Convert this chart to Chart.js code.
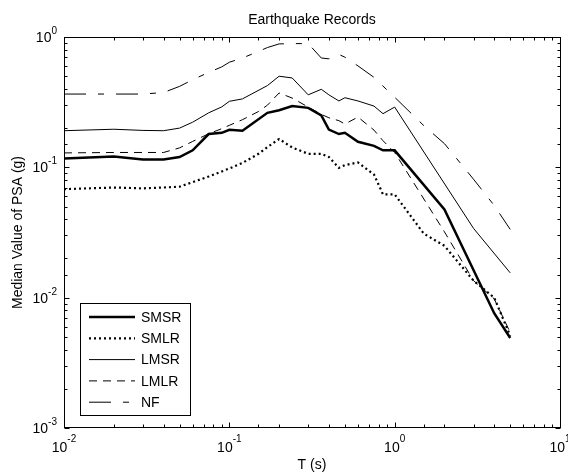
<!DOCTYPE html>
<html>
<head>
<meta charset="utf-8">
<title>Earthquake Records</title>
<script src="https://cdn.jsdelivr.net/npm/chart.js@4/dist/chart.umd.min.js"></script>
<style>
  html, body { margin: 0; padding: 0; background: #fff; }
  canvas { display: block; }
</style>
</head>
<body>
<canvas id="psa" width="568" height="473"></canvas>
<script>
// ---------- Data ----------
const periods = [0.01, 0.02, 0.03, 0.04, 0.05, 0.06, 0.075, 0.09, 0.1, 0.12, 0.15, 0.17, 0.2, 0.24,
                 0.3, 0.36, 0.4, 0.46, 0.5, 0.6, 0.75, 0.85, 1.0, 1.5, 2.0, 3.0, 4.0, 5.0];

const smsr = [0.117, 0.121, 0.115, 0.115, 0.120, 0.135, 0.180, 0.184, 0.194, 0.191, null, 0.262, 0.274, 0.295,
              0.286, 0.250, 0.195, 0.180, 0.184, 0.157, 0.146, 0.135, 0.135, null, 0.0476, null, 0.0076, 0.0049];
const smlr = [0.068, 0.070, 0.069, 0.070, 0.071, 0.077, 0.085, 0.093, 0.098, 0.108, 0.127, 0.143, 0.165, 0.142,
              0.127, 0.127, 0.120, 0.099, 0.104, 0.109, 0.088, 0.062, 0.062, 0.031, 0.025, 0.0135, 0.0100, 0.0051];
const lmsr = [0.191, 0.196, 0.192, 0.191, 0.200, 0.222, 0.262, 0.291, 0.321, 0.335, null, 0.424, 0.500, 0.485,
              0.360, 0.397, 0.360, 0.323, 0.342, 0.323, 0.295, 0.258, 0.290, null, null, 0.034, null, 0.0155];
const lmlr = [0.129, 0.130, 0.130, 0.130, 0.141, 0.158, 0.181, 0.198, 0.210, 0.232, 0.268, 0.300, 0.372, 0.340,
              0.290, 0.255, 0.240, 0.228, 0.215, 0.243, 0.193, 0.160, 0.130, null, 0.032, 0.0135, 0.0098, 0.0054];
const nf   = [0.365, 0.365, 0.365, 0.375, 0.418, 0.470, 0.535, 0.590, 0.640, 0.690, 0.775, 0.830, 0.885, 0.890,
              0.890, 0.690, 0.680, 0.735, 0.700, 0.600, 0.490, 0.420, 0.345, 0.209, 0.152, 0.081, 0.051, 0.0334];

const xTickLabels = [['10', '-2'], ['10', '-1'], ['10', '0'], ['10', '1']];
const yTickLabels = [['10', '-3'], ['10', '-2'], ['10', '-1'], ['10', '0']];

const FONT = '"Liberation Sans", Arial, sans-serif';

const toXY = (ys) => periods.map((t, i) => ({ x: t, y: ys[i] }));

function series(label, ys, width, dash) {
  return {
    label: label, data: toXY(ys), borderColor: '#000', backgroundColor: '#000',
    borderWidth: width, borderDash: dash, pointRadius: 0, tension: 0,
    spanGaps: true, fill: false,
  };
}

// ---------- Frame, inward ticks, labels, legend ----------
const matlabFrame = {
  id: 'matlabFrame',
  afterDraw(chart) {
    const ctx = chart.ctx;
    const a = chart.chartArea;
    const xs = chart.scales.x, ys = chart.scales.y;
    const L = Math.round(a.left) + 0.5, R = Math.round(a.right) + 0.5;
    const T = Math.round(a.top) + 0.5, B = Math.round(a.bottom) - 0.5;
    const isMajor = (v) => Math.abs(Math.log10(v) - Math.round(Math.log10(v))) < 1e-9;

    ctx.save();
    ctx.strokeStyle = '#000';
    ctx.lineWidth = 1;
    ctx.setLineDash([]);
    ctx.strokeRect(L, T, R - L, B - T);

    ctx.beginPath();
    xs.ticks.forEach((t) => {
      const px = Math.round(xs.getPixelForValue(t.value)) + 0.5;
      const len = isMajor(t.value) ? 5 : 3;
      ctx.moveTo(px, B); ctx.lineTo(px, B - len);
      ctx.moveTo(px, T); ctx.lineTo(px, T + len);
    });
    ys.ticks.forEach((t) => {
      const py = Math.round(ys.getPixelForValue(t.value)) + 0.5;
      const len = isMajor(t.value) ? 5 : 3;
      ctx.moveTo(L, py); ctx.lineTo(L + len, py);
      ctx.moveTo(R, py); ctx.lineTo(R - len, py);
    });
    ctx.stroke();

    // power-of-ten tick labels
    ctx.fillStyle = '#000';
    ctx.textBaseline = 'alphabetic';
    ctx.textAlign = 'left';
    const big = '14px ' + FONT, small = '10px ' + FONT;
    function measure(lab) {
      ctx.font = big; const w1 = ctx.measureText(lab[0]).width;
      ctx.font = small; const w2 = ctx.measureText(lab[1]).width;
      return [w1, w2];
    }
    function drawLab(lab, x0, base, supBase) {
      const w = measure(lab);
      ctx.font = big; ctx.fillText(lab[0], x0, base);
      ctx.font = small; ctx.fillText(lab[1], x0 + w[0], supBase);
    }
    xTickLabels.forEach((lab) => {
      const v = Math.pow(10, parseFloat(lab[1]));
      const px = xs.getPixelForValue(v);
      const w = measure(lab);
      drawLab(lab, px - (w[0] + w[1]) / 2, 452, 442);
    });
    yTickLabels.forEach((lab) => {
      const v = Math.pow(10, parseFloat(lab[1]));
      const py = ys.getPixelForValue(v);
      const w = measure(lab);
      drawLab(lab, 57 - (w[0] + w[1]), py + 5, py - 3);
    });

    // title and axis titles
    const cx = (a.left + a.right) / 2;
    ctx.font = big;
    ctx.textAlign = 'center';
    ctx.fillText('Earthquake Records', cx, 24);
    ctx.fillText('T (s)', cx, 469);
    ctx.save();
    ctx.translate(22, (a.top + a.bottom) / 2);
    ctx.rotate(-Math.PI / 2);
    ctx.fillText('Median Value of PSA (g)', 0, 0);
    ctx.restore();

    // legend box
    const bx = 80.5, by = 303.5, bw = 110, bh = 112;
    ctx.fillStyle = '#fff';
    ctx.fillRect(bx, by, bw, bh);
    ctx.strokeRect(bx, by, bw, bh);
    ctx.textAlign = 'left';
    ctx.textBaseline = 'middle';
    chart.data.datasets.forEach((ds, i) => {
      const y = 317 + i * 21.3;
      ctx.beginPath();
      ctx.lineWidth = ds.borderWidth;
      ctx.setLineDash(ds.borderDash || []);
      ctx.moveTo(89, y); ctx.lineTo(135, y);
      ctx.stroke();
      ctx.setLineDash([]);
      ctx.fillStyle = '#000';
      ctx.font = big;
      ctx.fillText(ds.label, 141, y + 1);
    });
    ctx.restore();
  },
};

new Chart(document.getElementById('psa'), {
  type: 'line',
  data: {
    datasets: [
      series('SMSR', smsr, 2.5, []),
      series('SMLR', smlr, 2.2, [2, 3]),
      series('LMSR', lmsr, 1, []),
      series('LMLR', lmlr, 1, [8, 6]),
      series('NF', nf, 1, [22, 12, 6, 12]),
    ],
  },
  options: {
    responsive: false,
    animation: false,
    layout: { padding: { top: 37, right: 8, left: 0, bottom: 0 } },
    plugins: { legend: { display: false }, tooltip: { enabled: false }, title: { display: false } },
    scales: {
      x: {
        type: 'logarithmic', min: 0.01, max: 10,
        grid: { display: false }, border: { display: false },
        ticks: { display: false },
        afterFit(s) { s.height = 45; },
      },
      y: {
        type: 'logarithmic', min: 0.001, max: 1,
        grid: { display: false }, border: { display: false },
        ticks: { display: false },
        afterFit(s) { s.width = 64; },
      },
    },
  },
  plugins: [matlabFrame],
});
</script>
</body>
</html>
